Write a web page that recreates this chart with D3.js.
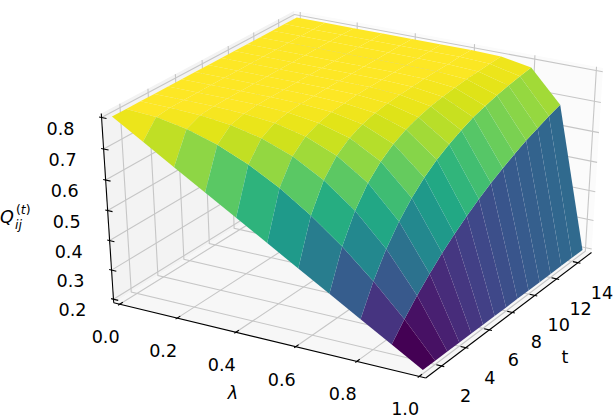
<!DOCTYPE html>
<html>
<head>
<meta charset="utf-8">
<script src="https://cdn.jsdelivr.net/npm/d3@7"></script>
<style>
  html, body { margin: 0; padding: 0; background: #fff; }
  svg { display: block; }
  text { font-family: "DejaVu Sans", sans-serif; fill: #000; }
</style>
</head>
<body>
<div id="chart"></div>
<script>
var lambdaValues = [0, 0.1, 0.2, 0.3, 0.4, 0.5, 0.6, 0.7, 0.8, 0.9, 1];
var tValues = [1, 2, 3, 4, 5, 6, 7, 8, 9, 10, 11, 12, 13, 14, 15];
// one row per lambda, one column per t
var qValues = [
  [0.800, 0.800, 0.800, 0.800, 0.800, 0.800, 0.800, 0.800, 0.800, 0.800, 0.800, 0.800, 0.800, 0.800, 0.800],
  [0.740, 0.794, 0.799, 0.800, 0.800, 0.800, 0.800, 0.800, 0.800, 0.800, 0.800, 0.800, 0.800, 0.800, 0.800],
  [0.680, 0.776, 0.795, 0.799, 0.800, 0.800, 0.800, 0.800, 0.800, 0.800, 0.800, 0.800, 0.800, 0.800, 0.800],
  [0.620, 0.746, 0.784, 0.795, 0.799, 0.800, 0.800, 0.800, 0.800, 0.800, 0.800, 0.800, 0.800, 0.800, 0.800],
  [0.560, 0.704, 0.762, 0.785, 0.794, 0.798, 0.799, 0.800, 0.800, 0.800, 0.800, 0.800, 0.800, 0.800, 0.800],
  [0.500, 0.650, 0.725, 0.763, 0.781, 0.791, 0.795, 0.798, 0.799, 0.799, 0.800, 0.800, 0.800, 0.800, 0.800],
  [0.440, 0.584, 0.670, 0.722, 0.753, 0.772, 0.783, 0.790, 0.794, 0.796, 0.798, 0.799, 0.799, 0.800, 0.800],
  [0.380, 0.506, 0.594, 0.656, 0.699, 0.729, 0.751, 0.765, 0.776, 0.783, 0.788, 0.792, 0.794, 0.796, 0.797],
  [0.320, 0.416, 0.493, 0.554, 0.603, 0.643, 0.674, 0.699, 0.719, 0.736, 0.748, 0.759, 0.767, 0.774, 0.779],
  [0.260, 0.314, 0.363, 0.406, 0.446, 0.481, 0.513, 0.542, 0.568, 0.591, 0.612, 0.631, 0.647, 0.663, 0.676],
  [0.200, 0.200, 0.200, 0.200, 0.200, 0.200, 0.200, 0.200, 0.200, 0.200, 0.200, 0.200, 0.200, 0.200, 0.200]
];
var lambdaTicks = [0, 0.2, 0.4, 0.6, 0.8, 1];
var tTicks = [2, 4, 6, 8, 10, 12, 14];
var zTicks = [0.2, 0.3, 0.4, 0.5, 0.6, 0.7, 0.8];

(function() {
  var width = 614;
  var height = 420;
  var fontSize = 17.6;

  // camera, same idea as mplot3d: elev 30, azim -60, distance 10
  var elev = 30 * Math.PI / 180;
  var azim = -60 * Math.PI / 180;
  var dist = 10;
  var halfXY = 0.595;
  var halfZ = 0.488;
  var screen = { sx: 3010, sy: 2210, tx: 357, ty: 186 };

  var right = [-Math.sin(azim), Math.cos(azim), 0];
  var up = [-Math.sin(elev) * Math.cos(azim), -Math.sin(elev) * Math.sin(azim), Math.cos(elev)];
  var toEye = [Math.cos(elev) * Math.cos(azim), Math.cos(elev) * Math.sin(azim), Math.sin(elev)];

  // axis limits get the 1/48 padding mplot3d puts round the data range
  var lambdaLim = paddedDomain(0, 1);
  var tLim = paddedDomain(1, 15);
  var zLim = paddedDomain(0.2, 0.8);
  var lambdaScale = d3.scaleLinear().domain(lambdaLim).range([-halfXY, halfXY]);
  var tScale = d3.scaleLinear().domain(tLim).range([-halfXY, halfXY]);
  var zScale = d3.scaleLinear().domain(zLim).range([-halfZ, halfZ]);
  var line = d3.line();

  var svg = d3.select('#chart').append('svg').attr('width', width).attr('height', height);

  renderPanes();
  renderGrid();
  renderAxes();
  renderSurface();
  renderLabels();

  function paddedDomain(min, max) {
    var delta = (max - min) / 48;
    return [min - delta, max + delta];
  }

  function dot(a, b) {
    return a[0] * b[0] + a[1] * b[1] + a[2] * b[2];
  }

  function toBox(p) {
    return [lambdaScale(p[0]), tScale(p[1]), zScale(p[2])];
  }

  function depth(p) {
    return dist - dot(toBox(p), toEye);
  }

  /*
   * Data coordinates [lambda, t, z] to pixels
   */
  function project(p) {
    var b = toBox(p);
    var d = dist - dot(b, toEye);
    return [screen.tx + screen.sx * dot(b, right) / d, screen.ty - screen.sy * dot(b, up) / d];
  }

  function drawPolyline(parent, points, color, lineWidth) {
    parent.append('path')
      .attr('d', line(points.map(project)))
      .attr('fill', 'none')
      .attr('stroke', color)
      .attr('stroke-width', lineWidth);
  }

  function renderPanes() {
    var panes = svg.append('g').attr('class', 'panes');
    var l0 = lambdaLim[0], l1 = lambdaLim[1], t0 = tLim[0], t1 = tLim[1], z0 = zLim[0], z1 = zLim[1];
    var corners = [
      { color: '#f3f3f3', points: [[l0, t0, z0], [l0, t1, z0], [l0, t1, z1], [l0, t0, z1]] },
      { color: '#fbfbfb', points: [[l0, t1, z0], [l1, t1, z0], [l1, t1, z1], [l0, t1, z1]] },
      { color: '#f7f7f7', points: [[l0, t0, z0], [l1, t0, z0], [l1, t1, z0], [l0, t1, z0]] }
    ];
    corners.forEach(function(pane) {
      panes.append('path')
        .attr('d', line(pane.points.map(project)) + 'Z')
        .attr('fill', pane.color);
    });
  }

  function renderGrid() {
    var grid = svg.append('g').attr('class', 'grid');
    var gridColor = '#c6c6c6';
    var gridWidth = 1.1;
    lambdaTicks.forEach(function(v) {
      drawPolyline(grid, [[v, tLim[0], zLim[0]], [v, tLim[1], zLim[0]], [v, tLim[1], zLim[1]]], gridColor, gridWidth);
    });
    tTicks.forEach(function(v) {
      drawPolyline(grid, [[lambdaLim[1], v, zLim[0]], [lambdaLim[0], v, zLim[0]], [lambdaLim[0], v, zLim[1]]], gridColor, gridWidth);
    });
    zTicks.forEach(function(v) {
      drawPolyline(grid, [[lambdaLim[0], tLim[0], v], [lambdaLim[0], tLim[1], v], [lambdaLim[1], tLim[1], v]], gridColor, gridWidth);
    });
  }

  function renderAxes() {
    var axes = svg.append('g').attr('class', 'axes');
    var axisWidth = 1.1;
    var lambdaDelta = 1 / 12;
    var tDelta = 14 / 12;
    var outward = 0.1;
    var inward = 0.2;

    drawPolyline(axes, [[lambdaLim[0], tLim[0], zLim[0]], [lambdaLim[1], tLim[0], zLim[0]]], '#000', axisWidth);
    drawPolyline(axes, [[lambdaLim[1], tLim[0], zLim[0]], [lambdaLim[1], tLim[1], zLim[0]]], '#000', axisWidth);
    drawPolyline(axes, [[lambdaLim[0], tLim[0], zLim[0]], [lambdaLim[0], tLim[0], zLim[1]]], '#000', axisWidth);

    lambdaTicks.forEach(function(v) {
      drawPolyline(axes, [[v, tLim[0] - outward * tDelta, zLim[0]], [v, tLim[0] + inward * tDelta, zLim[0]]], '#000', axisWidth);
    });
    tTicks.forEach(function(v) {
      drawPolyline(axes, [[lambdaLim[1] + outward * lambdaDelta, v, zLim[0]], [lambdaLim[1] - inward * lambdaDelta, v, zLim[0]]], '#000', axisWidth);
    });
    zTicks.forEach(function(v) {
      drawPolyline(axes, [[lambdaLim[0] - outward * lambdaDelta, tLim[0], v], [lambdaLim[0] + inward * lambdaDelta, tLim[0], v]], '#000', axisWidth);
    });
  }

  /*
   * One polygon per grid cell, coloured by its mean value and painted back to front
   */
  function renderSurface() {
    var cells = [];
    d3.range(lambdaValues.length - 1).forEach(function(i) {
      d3.range(tValues.length - 1).forEach(function(j) {
        var points = [[i, j], [i + 1, j], [i + 1, j + 1], [i, j + 1]].map(function(c) {
          return [lambdaValues[c[0]], tValues[c[1]], qValues[c[0]][c[1]]];
        });
        cells.push({
          points: points,
          value: d3.mean(points, function(p) { return p[2]; }),
          depth: d3.mean(points, depth)
        });
      });
    });
    var color = d3.scaleSequential(d3.interpolateViridis)
      .domain(d3.extent(cells, function(c) { return c.value; }));

    cells.sort(function(a, b) { return b.depth - a.depth; });
    svg.append('g').attr('class', 'surface')
      .selectAll('path')
      .data(cells)
      .enter()
      .append('path')
      .attr('d', function(c) { return line(c.points.map(project)) + 'Z'; })
      .attr('fill', function(c) { return color(c.value); });
  }

  function renderLabels() {
    var labels = svg.append('g').attr('class', 'labels').attr('font-size', fontSize);

    function tickLabels(values, position, dx, dy, format) {
      values.forEach(function(v) {
        var p = project(position(v));
        labels.append('text')
          .attr('x', p[0] + dx)
          .attr('y', p[1] + dy)
          .attr('text-anchor', 'middle')
          .attr('dominant-baseline', 'central')
          .text(format(v));
      });
    }

    tickLabels(lambdaTicks, function(v) { return [v, tLim[0], zLim[0]]; }, -14, 33, d3.format('.1f'));
    tickLabels(tTicks, function(v) { return [lambdaLim[1], v, zLim[0]]; }, 24, 30, d3.format('d'));
    tickLabels(zTicks, function(v) { return [lambdaLim[0], tLim[0], v]; }, -41, 11, d3.format('.1f'));

    labels.append('text').attr('x', 233).attr('y', 393).attr('text-anchor', 'middle')
      .attr('dominant-baseline', 'central').attr('font-style', 'italic').text('λ');
    labels.append('text').attr('x', 565).attr('y', 357).attr('text-anchor', 'middle')
      .attr('dominant-baseline', 'central').text('t');

    labels.append('text').attr('x', 0).attr('y', 223).attr('font-style', 'italic').text('Q');
    labels.append('text').attr('x', 15).attr('y', 229).attr('font-style', 'italic').attr('font-size', 12.4).text('ij');
    labels.append('text').attr('x', 16).attr('y', 214).attr('font-size', 12.4)
      .html('(<tspan font-style="italic">t</tspan>)');
  }
}).call(this);
</script>
</body>
</html>
